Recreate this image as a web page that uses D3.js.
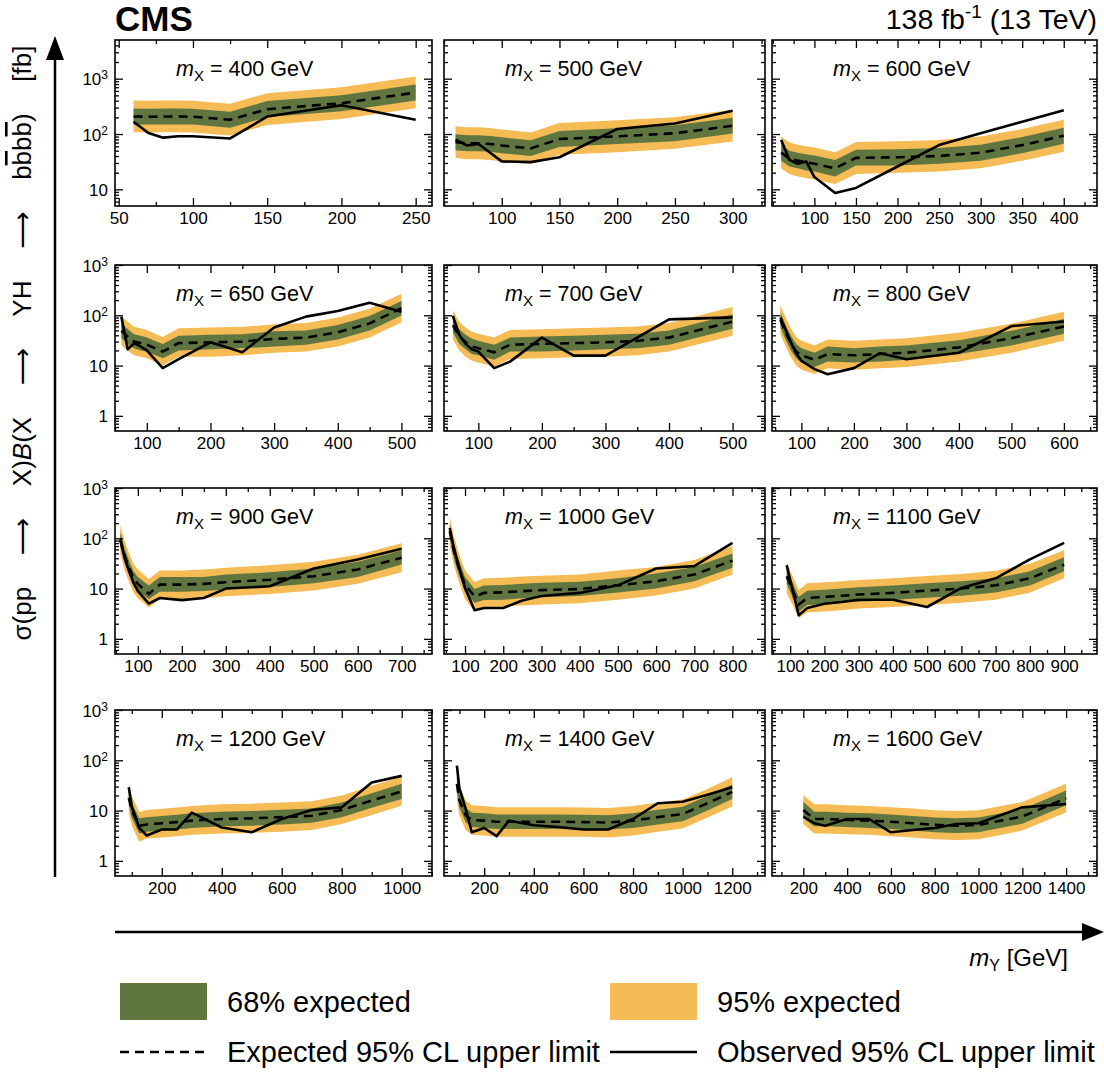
<!DOCTYPE html>
<html><head><meta charset="utf-8">
<script src="https://cdn.jsdelivr.net/npm/d3@7"></script>
<style>
body{margin:0;background:#fff}
svg{display:block}
text{font-family:"Liberation Sans",Arial,Helvetica,sans-serif;fill:#000}
</style>
</head><body>
<svg id="c" width="1104" height="1072"></svg>
<script>
// ---------------- data ----------------
const massX = [400,500,600,650,700,800,900,1000,1100,1200,1400,1600];

const massY = [
  [60,70,80,90,100,125,150,200,250],
  [60,70,80,90,100,125,150,200,250,300],
  [60,70,80,90,100,125,150,200,250,300,350,400],
  [60,70,80,90,100,125,150,200,250,300,350,400,450,500],
  [60,70,80,90,100,125,150,200,250,300,350,400,500],
  [60,70,80,90,100,125,150,200,250,300,400,500,600],
  [60,70,80,90,100,125,150,200,250,300,400,500,600,700],
  [60,70,80,90,100,125,150,200,250,300,400,500,600,700,800],
  [90,100,125,150,200,250,300,400,500,600,700,800,900],
  [90,100,125,150,200,250,300,400,500,600,700,800,900,1000],
  [90,100,125,150,200,250,300,400,500,600,700,800,900,1000,1100,1200],
  [200,250,300,400,500,600,700,800,900,1000,1200,1400]
];

const expected = [
  [207,205,207,207,205,181,281,360,562],
  [71,68,68,66,62,55,81,91,103,141],
  [46,36,33,31,29,24,37,38,40,46,63,93],
  [49,38,30,28,26,19,28,29,30,34,36,46,69,138],
  [64,38,29,24,22,18.4,26,27,28,29,31,36,75],
  [81,46,28,19,16,13,17,16,17,18,23,35,60],
  [94,44,26,16,12.4,7.8,12,12,12.4,13.4,15,17.6,24,41],
  [138,60,32,19,12,7.0,8.2,8.4,8.9,9.3,9.8,11.6,14,19,36],
  [17.6,12,4.8,6.5,6.8,7.2,7.6,8.2,9.1,10,11.6,16,30],
  [18,10,5.0,5.3,5.6,5.9,6.3,6.8,7.0,7.4,7.9,10.3,15.8,24],
  [34,16,8.2,6.5,6.3,6.0,6.0,6.0,6.0,5.9,5.8,6.3,7.4,8.5,14,23.5],
  [10.3,6.8,6.8,6.5,6.3,6.0,5.6,5.2,5.0,5.2,7.6,17.6]
];

const observed = [
  [166,104,86,91,91,83,207,331,181],
  [79,62,66,46,32,31,38,123,155,263],
  [78,34,29,32,16.7,8.6,10.6,25.9,63,103,167,270],
  [94,21,28,24,20,8.9,13.4,29,18.4,57,94,122,178,118],
  [97,41,27,21,19,8.9,12,36,15.8,15.8,36,83,91],
  [90,51,29,17.6,12.4,8.5,6.7,8.9,17.6,13.4,18,61,75],
  [94,41,22,13,8.9,5.0,6.5,5.9,6.5,10,11.1,25,38,62],
  [160,69,35,19,10.3,3.7,4.1,4.1,5.8,7.1,8.2,11.6,25,28,81],
  [29,15,2.95,4.1,5.0,5.4,6.0,6.0,4.3,10.3,16,38,81],
  [29,12,4.5,3.2,4.2,4.2,9.1,4.6,3.7,6.8,10.3,11.6,36,49],
  [78,28,11,3.7,4.5,3.1,6.3,5.1,4.7,4.2,4.2,6.8,14,15,20.6,29],
  [7.6,5.6,5.0,6.8,6.8,3.7,4.1,4.5,5.4,5.6,11.6,13.5]
];

const band95Lo = [
  [108,107,108,108,107,94,146,187,292],
  [37,35,35,34,32,29,42,47,54,73],
  [24,19,17,16,15,12.5,19,20,21,24,33,48],
  [25,20,16,15,14,10,15,15,16,18,19,24,36,72],
  [33,20,15,12.5,11.4,9.6,13.5,14,14.6,15,16,19,39],
  [42,24,14.6,10,8.3,6.8,8.8,8.3,8.8,9.4,12,18,31],
  [49,23,13.5,8.3,6.4,4.2,6.2,6.2,6.4,7,7.8,9.2,12.5,21],
  [72,31,17,10,6.2,3.5,4.3,4.4,4.6,4.8,5.1,6,7.3,10,19],
  [8,6,2.6,3.4,3.5,3.7,4,4.3,4.7,5.2,6,8.3,16],
  [9,5,2.4,2.8,2.9,3.1,3.3,3.5,3.6,3.8,4.1,5.4,8.2,12.5],
  [17,8,4.1,3.3,3.2,3,3,3,3,3,2.9,3.2,3.8,4.4,7.3,12],
  [5.4,3.5,3.5,3.4,3.3,3.1,2.9,2.7,2.6,2.7,4,9.2]
];

const band68Lo = [
  [149,148,149,149,148,130,202,259,405],
  [51,49,49,48,45,40,58,66,74,102],
  [33,26,24,22,21,17,27,27,29,33,45,67],
  [35,27,22,20,19,14,20,21,22,24,26,33,50,99],
  [46,27,21,17,16,13,19,19,20,21,22,26,54],
  [58,33,20,14,11.5,9.4,12,11.5,12,13,17,25,43],
  [68,32,19,11.5,8.9,6.2,8.6,8.6,8.9,9.6,10.8,12.7,17,30],
  [99,43,23,14,8.6,5.2,5.9,6,6.4,6.7,7.1,8.4,10,14,26],
  [12.5,8.6,3.5,4.7,4.9,5.2,5.5,5.9,6.6,7.2,8.4,11.5,22],
  [13,7.2,3.5,3.8,4,4.2,4.5,4.9,5,5.3,5.7,7.4,11.4,17],
  [24,11.5,5.9,4.7,4.5,4.3,4.3,4.3,4.3,4.2,4.2,4.5,5.3,6.1,10,17],
  [7,4.9,4.9,4.7,4.5,4.3,4,3.7,3.6,3.7,5.5,12.7]
];

const band68Hi = [
  [290,287,290,290,287,253,393,504,787],
  [99,95,95,92,87,77,113,127,144,197],
  [64,50,46,43,41,34,52,53,56,64,88,130],
  [69,53,42,39,36,27,39,41,42,48,50,64,97,193],
  [90,53,41,34,31,26,36,38,39,41,43,50,105],
  [113,64,39,27,22,18,24,22,24,25,32,49,84],
  [132,62,36,22,17,11.5,17,17,17,19,21,25,34,57],
  [193,84,45,27,17,9.8,11.5,11.8,12.5,13,13.7,16,20,27,50],
  [25,17,6.9,9.1,9.5,10,10.6,11.5,12.7,14,16,22,42],
  [25,14,7,7.4,7.8,8.3,8.8,9.5,9.8,10.4,11,14.4,22,34],
  [48,22,11.5,9.1,8.8,8.4,8.4,8.4,8.4,8.3,8.1,8.8,10.4,11.9,19.6,33],
  [15,9.5,9.5,9.1,8.8,8.4,7.8,7.3,7,7.3,10.6,25]
];

const band95Hi = [
  [404,400,404,404,400,353,548,702,1096],
  [138,133,133,129,121,107,158,177,201,275],
  [90,70,64,60,57,47,72,74,78,90,123,181],
  [96,74,59,55,51,37,55,57,59,66,70,90,135,269],
  [125,74,57,47,43,36,51,53,55,57,60,70,146],
  [158,90,55,37,31,25,33,31,33,35,45,68,117],
  [183,86,51,31,24,15.5,23,23,24,26,29,34,47,80],
  [269,117,62,37,23,13.5,16,16.4,17.4,18,19,23,27,37,70],
  [35,23,9.4,12.7,13.3,14,14.8,16,17.7,19.5,22.6,31,58],
  [35,19.5,9.3,10.3,10.9,11.5,12.3,13.3,13.7,14.4,15.4,20,31,47],
  [66,31,16,12.7,12.3,11.7,11.7,11.7,11.7,11.5,11.3,12.3,14.4,16.6,27,46],
  [20.5,13.3,13.3,12.7,12.3,11.7,11,10.1,9.8,10.1,14.8,34]
];

// axis settings
const xDomains = [[47.5,261],[50,328],[49,440],[50,548],[46,551],[44,663],[48,769],[45,885],[47,996],[44,1101],[38,1332],[57,1541]];
const xTickLabels = [
  [50,100,150,200,250],
  [100,150,200,250,300],
  [100,150,200,250,300,350,400],
  [100,200,300,400,500],
  [100,200,300,400,500],
  [100,200,300,400,500,600],
  [100,200,300,400,500,600,700],
  [100,200,300,400,500,600,700,800],
  [100,200,300,400,500,600,700,800,900],
  [200,400,600,800,1000],
  [200,400,600,800,1000,1200],
  [200,400,600,800,1000,1200,1400]
];
const xTickStep = [50,50,50,100,100,100,100,100,100,200,200,200];
const yDomainTop = [5,5000];
const yDomainRest = [0.5,1000];
const yTicksTop = [10,100,1000];
const yTicksRest = [1,10,100,1000];

// ---------------- drawing ----------------
const svg = d3.select("#c");
const colLeft = [115,444,772], colRight = [432,765,1097];
const rowTop = [40,265,488,710], rowBottom = [206,431,654,876];
const GREEN = "#607641", YELLOW = "#F5BB54";
const FONT = '"Liberation Sans",Arial,sans-serif';

massX.forEach((mx, i) => {
  const r = Math.floor(i/3), c = i % 3;
  const x0 = colLeft[c], x1 = colRight[c], y0 = rowTop[r], y1 = rowBottom[r];
  const xs = d3.scaleLinear().domain(xDomains[i]).range([x0, x1]);
  const ys = d3.scaleLog().domain(r === 0 ? yDomainTop : yDomainRest).range([y1, y0]);
  const g = svg.append("g");
  const pts = massY[i].map((m, j) => ({m, e: expected[i][j], o: observed[i][j],
    l68: band68Lo[i][j], h68: band68Hi[i][j], l95: band95Lo[i][j], h95: band95Hi[i][j]}));

  g.append("path").attr("fill", YELLOW)
    .attr("d", d3.area().x(d => xs(d.m)).y0(d => ys(d.l95)).y1(d => ys(d.h95))(pts));
  g.append("path").attr("fill", GREEN)
    .attr("d", d3.area().x(d => xs(d.m)).y0(d => ys(d.l68)).y1(d => ys(d.h68))(pts));
  g.append("path").attr("fill", "none").attr("stroke", "#000").attr("stroke-width", 2.6)
    .attr("stroke-dasharray", "9,6")
    .attr("d", d3.line().x(d => xs(d.m)).y(d => ys(d.e))(pts));
  g.append("path").attr("fill", "none").attr("stroke", "#000").attr("stroke-width", 2.6)
    .attr("stroke-linejoin", "round")
    .attr("d", d3.line().x(d => xs(d.m)).y(d => ys(d.o))(pts));

  // x ticks
  const dom = xDomains[i];
  const half = xTickStep[i] / 2;
  const majX = xTickLabels[i];
  const minorX = d3.range(Math.ceil(dom[0]/half)*half, dom[1], half).filter(v => !majX.includes(v));
  const axB = g.append("g").attr("transform", `translate(0,${y1})`)
    .call(d3.axisBottom(xs).tickValues(majX).tickSize(-8).tickPadding(6).tickFormat(d3.format("d")));
  g.append("g").attr("transform", `translate(0,${y1})`)
    .call(d3.axisBottom(xs).tickValues(minorX).tickSize(-4).tickFormat(""));
  g.append("g").attr("transform", `translate(0,${y0})`)
    .call(d3.axisTop(xs).tickValues(majX).tickSize(-8).tickFormat(""));
  g.append("g").attr("transform", `translate(0,${y0})`)
    .call(d3.axisTop(xs).tickValues(minorX).tickSize(-4).tickFormat(""));

  // y ticks
  const yd = ys.domain();
  const majY = (r === 0 ? yTicksTop : yTicksRest);
  const minorY = [];
  [0.1,1,10,100,1000].forEach(dec => { for (let k = 2; k <= 9; k++) { const v = dec*k; if (v > yd[0] && v < yd[1]) minorY.push(v); } });
  const axL = g.append("g").attr("transform", `translate(${x0},0)`)
    .call(d3.axisLeft(ys).tickValues(majY).tickSize(-8).tickPadding(7).tickFormat(""));
  g.append("g").attr("transform", `translate(${x0},0)`)
    .call(d3.axisLeft(ys).tickValues(minorY).tickSize(-4).tickFormat(""));
  g.append("g").attr("transform", `translate(${x1},0)`)
    .call(d3.axisRight(ys).tickValues(majY).tickSize(-8).tickFormat(""));
  g.append("g").attr("transform", `translate(${x1},0)`)
    .call(d3.axisRight(ys).tickValues(minorY).tickSize(-4).tickFormat(""));

  g.selectAll(".domain").remove();
  g.selectAll(".tick line").attr("stroke", "#000").attr("stroke-width", 1.3);
  axB.selectAll("text").attr("font-size", 17).attr("font-family", FONT);

  if (c === 0) {
    axL.selectAll(".tick").each(function(d) {
      const t = d3.select(this).select("text");
      t.text("").attr("font-size", 17).attr("font-family", FONT).attr("x", -7).attr("dy", "0.36em");
      if (d < 100) { t.text(String(d)); }
      else {
        t.append("tspan").text("10");
        t.append("tspan").attr("dy", "-0.5em").attr("font-size", 12).text(String(Math.round(Math.log10(d))));
      }
    });
  }

  // frame
  g.append("rect").attr("x", x0).attr("y", y0).attr("width", x1 - x0).attr("height", y1 - y0)
    .attr("fill", "none").attr("stroke", "#000").attr("stroke-width", 1.6);

  // title
  const t = g.append("text").attr("x", x0 + 61).attr("y", y0 + 36).attr("font-size", 21.5);
  t.append("tspan").attr("font-style", "italic").text("m");
  t.append("tspan").attr("font-size", 15).attr("dy", 5).text("X");
  t.append("tspan").attr("dy", -5).text(` = ${mx} GeV`);
});

// header
svg.append("text").attr("x", 115).attr("y", 31).attr("font-size", 35).attr("font-weight", "bold").text("CMS");
const lum = svg.append("text").attr("x", 1097).attr("y", 29).attr("font-size", 28.5).attr("text-anchor", "end");
lum.append("tspan").text("138 fb");
lum.append("tspan").attr("dy", -11).attr("font-size", 19).text("-1");
lum.append("tspan").attr("dy", 11).text(" (13 TeV)");

// big axis arrows
svg.append("line").attr("x1", 55).attr("x2", 55).attr("y1", 877).attr("y2", 55).attr("stroke", "#000").attr("stroke-width", 2.5);
svg.append("path").attr("d", "M55,36 L46,60 L64,60 Z").attr("fill", "#000");
svg.append("line").attr("x1", 115).attr("x2", 1088).attr("y1", 932).attr("y2", 932).attr("stroke", "#000").attr("stroke-width", 2.5);
svg.append("path").attr("d", "M1104,932 L1082,923 L1082,941 Z").attr("fill", "#000");

// y label (spaces widened so the label spans the reference length)
const yl = svg.append("text").attr("transform", "translate(31,343) rotate(-90)").attr("text-anchor", "middle")
  .attr("font-size", 26);
const arrowSpan = sel => sel.append("tspan").attr("font-family", '"DejaVu Sans",sans-serif').attr("font-size", 26).text("⟶");
yl.append("tspan").text("σ(pp ");
arrowSpan(yl);
yl.append("tspan").text(" X)");
yl.append("tspan").attr("font-style", "italic").text("B");
yl.append("tspan").text("(X ");
arrowSpan(yl);
yl.append("tspan").text(" YH ");
arrowSpan(yl);
yl.append("tspan").text(" b");
yl.append("tspan").style("text-decoration", "overline").text("b");
yl.append("tspan").text("b");
yl.append("tspan").style("text-decoration", "overline").text("b");
yl.append("tspan").text(") [fb]");
const natural = yl.node().getComputedTextLength();
const nSpaces = 7;
yl.style("word-spacing", Math.max(0, (595 - natural) / nSpaces) + "px");

// x label
const xl = svg.append("text").attr("x", 1068).attr("y", 966).attr("font-size", 24).attr("text-anchor", "end");
xl.append("tspan").attr("font-style", "italic").text("m");
xl.append("tspan").attr("font-size", 16).attr("dy", 5).text("Y");
xl.append("tspan").attr("dy", -5).text(" [GeV]");

// legend
svg.append("rect").attr("x", 120).attr("y", 983).attr("width", 87).attr("height", 37).attr("fill", GREEN);
svg.append("rect").attr("x", 610).attr("y", 983).attr("width", 87).attr("height", 37).attr("fill", YELLOW);
svg.append("line").attr("x1", 120).attr("x2", 207).attr("y1", 1052).attr("y2", 1052).attr("stroke", "#000").attr("stroke-width", 2.6).attr("stroke-dasharray", "9,6");
svg.append("line").attr("x1", 610).attr("x2", 697).attr("y1", 1052).attr("y2", 1052).attr("stroke", "#000").attr("stroke-width", 2.6);
const legText = [["68% expected",227,1012],["95% expected",717,1012],["Expected 95% CL upper limit",227,1062],["Observed 95% CL upper limit",717,1062]];
legText.forEach(([s,x,y]) => svg.append("text").attr("x", x).attr("y", y).attr("font-size", 29).text(s));
</script>
</body></html>
